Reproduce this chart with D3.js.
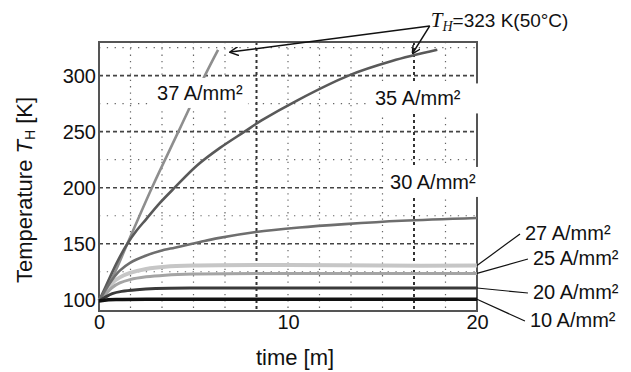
<!DOCTYPE html>
<meta charset="utf-8">
<head>
<script src="https://cdn.jsdelivr.net/npm/d3@7"></script>
<style>
  body { margin: 0; background: #fff; }
  text { font-family: "Liberation Sans", Arial, sans-serif; fill: #111; }
</style>
</head>
<body>
<div id="chart"></div>
<script>
// time [m] and temperature T_H [K], one pair per current density
var time37 = [0, 0.4, 0.8, 1.5, 2.8, 4.2, 5.6, 6.3];
var temp37 = [99, 110, 123, 150, 200, 250, 300, 323];

var time35 = [0, 0.25, 0.6, 1.0, 1.5, 2.0, 2.5, 3.2, 4.0, 5.2, 6.4, 7.7, 8.6, 10.5, 13.2, 15.5, 17.9];
var temp35 = [99, 108, 121, 135, 150, 162, 172, 186, 200, 220, 235.5, 250, 260, 278, 300, 313, 323];

var time30 = [0, 0.3, 0.7, 1.1, 1.64, 2.5, 3.23, 4.0, 4.81, 5.34, 6.3, 8.3, 10.6, 13, 16, 20];
var temp30 = [99, 108, 118, 126, 133, 139.5, 143.5, 146.5, 149.5, 151.5, 155, 160.5, 164.5, 167.5, 170.5, 173];

var time27 = [0, 0.3, 0.7, 1.1, 1.64, 2.5, 3.5, 5, 10, 15, 20];
var temp27 = [99, 106, 115, 120, 124, 127.5, 129.5, 130.5, 131, 130.5, 130.5];

var time25 = [0, 0.3, 0.7, 1.1, 1.64, 2.5, 3.5, 5, 10, 20];
var temp25 = [99, 104, 111, 115, 118, 120.5, 122, 123, 123.5, 123.5];

var time20 = [0, 0.3, 0.7, 1.2, 2, 3, 5, 10, 20];
var temp20 = [99, 102, 105.5, 107.5, 109, 110, 110.5, 110.5, 110.5];

var time10 = [0, 0.5, 1, 3, 20];
var temp10 = [99, 100, 100.3, 100.5, 100.5];

var yTicks = [100, 150, 200, 250, 300];
var xTicks = [0, 10, 20];
var yMajorGrid = [150, 200, 250, 300];
var yMinorGrid = [125, 175, 225, 275, 325];

// label text and where it sits, in data units [time, temperature of baseline]
var labelText = ["37 A/mm²", "35 A/mm²", "30 A/mm²", "27 A/mm²", "25 A/mm²", "20 A/mm²", "10 A/mm²"];
var labelTime = [3.07, 14.6, 15.4, 22.54, 22.96, 22.96, 22.8];
var labelTemp = [278.3, 273.4, 198.9, 153.4, 131, 100.7, 75.7];

var width = 631, height = 372;
var margin = {left: 99, right: 154, top: 42, bottom: 61};

var x = d3.scaleLinear().domain([0, 20]).range([margin.left, width - margin.right]);
var y = d3.scaleLinear().domain([90, 330]).range([height - margin.bottom, margin.top]);

var svg = d3.select("#chart").append("svg")
    .attr("width", width)
    .attr("height", height);

var defs = svg.append("defs");
defs.append("marker")
    .attr("id", "arr")
    .attr("viewBox", "0 0 10 10")
    .attr("refX", 9).attr("refY", 5)
    .attr("markerWidth", 9).attr("markerHeight", 9)
    .attr("markerUnits", "userSpaceOnUse")
    .attr("orient", "auto")
  .append("path")
    .attr("d", "M0,0 L10,5 L0,10")
    .attr("fill", "none")
    .attr("stroke", "#111")
    .attr("stroke-width", 1.6);

// grid: the scope screen has 12 divisions across, heavy every 5th
var grid = svg.append("g");
var divs = d3.range(1, 12);
grid.selectAll(".vminor")
    .data(divs.filter(function (k) { return k % 5 != 0; }))
    .enter().append("line")
    .attr("x1", function (k) { return x(k * 20 / 12); })
    .attr("x2", function (k) { return x(k * 20 / 12); })
    .attr("y1", y(330)).attr("y2", y(90))
    .attr("stroke", "#666").attr("stroke-width", 1.2)
    .attr("stroke-dasharray", "1.3,5");
grid.selectAll(".vmajor")
    .data(divs.filter(function (k) { return k % 5 == 0; }))
    .enter().append("line")
    .attr("x1", function (k) { return x(k * 20 / 12); })
    .attr("x2", function (k) { return x(k * 20 / 12); })
    .attr("y1", y(330)).attr("y2", y(90))
    .attr("stroke", "#333").attr("stroke-width", 2)
    .attr("stroke-dasharray", "3,3");
grid.selectAll(".hminor")
    .data(yMinorGrid)
    .enter().append("line")
    .attr("x1", x(0)).attr("x2", x(20))
    .attr("y1", function (d) { return y(d); })
    .attr("y2", function (d) { return y(d); })
    .attr("stroke", "#666").attr("stroke-width", 1.2)
    .attr("stroke-dasharray", "1.3,6.5");
grid.selectAll(".hmajor")
    .data(yMajorGrid)
    .enter().append("line")
    .attr("x1", x(0)).attr("x2", x(20))
    .attr("y1", function (d) { return y(d); })
    .attr("y2", function (d) { return y(d); })
    .attr("stroke", "#444").attr("stroke-width", 1.6)
    .attr("stroke-dasharray", "4,3");

// frame
svg.append("rect")
    .attr("x", x(0)).attr("y", y(330))
    .attr("width", x(20) - x(0)).attr("height", y(90) - y(330))
    .attr("fill", "none").attr("stroke", "#555").attr("stroke-width", 2);

// curves
var series = [
  {t: time27, v: temp27, color: "#c6c6c6", w: 4},
  {t: time25, v: temp25, color: "#a4a4a4", w: 3},
  {t: time37, v: temp37, color: "#8e8e8e", w: 2.6},
  {t: time35, v: temp35, color: "#595959", w: 2.6},
  {t: time30, v: temp30, color: "#6e6e6e", w: 2.6},
  {t: time20, v: temp20, color: "#3a3a3a", w: 3},
  {t: time10, v: temp10, color: "#111", w: 3.5}
];
var line = d3.line()
    .x(function (d) { return x(d[0]); })
    .y(function (d) { return y(d[1]); })
    .curve(d3.curveCatmullRom.alpha(0.5));
svg.append("g").selectAll("path")
    .data(series)
    .enter().append("path")
    .attr("d", function (s) { return line(d3.zip(s.t, s.v)); })
    .attr("fill", "none")
    .attr("stroke", function (s) { return s.color; })
    .attr("stroke-width", function (s) { return s.w; })
    .attr("stroke-linejoin", "round");

// curve labels (white box behind the ones inside the plot)
var labels = svg.append("g");
labelText.forEach(function (txt, i) {
  var g = labels.append("g");
  var tx = x(labelTime[i]), ty = y(labelTemp[i]);
  var t = g.append("text")
      .attr("x", tx).attr("y", ty)
      .attr("font-size", 20)
      .text(txt);
  if (labelTime[i] < 20) {
    var b = t.node().getBBox();
    var right = b.x + b.width + 5;
    if (i > 0) right = Math.max(right, x(20) + 3);
    g.insert("rect", "text")
        .attr("x", b.x - 6).attr("y", b.y - 4)
        .attr("width", right - b.x + 6).attr("height", b.height + 8)
        .attr("fill", "#fff");
  } else {
    // leader line from curve end to label
    var s = series[[0, 0, 0, 0, 1, 5, 6][i]];
    labels.append("line")
        .attr("x1", x(20)).attr("y1", y(s.v[s.v.length - 1]))
        .attr("x2", tx - 5).attr("y2", ty - 6)
        .attr("stroke", "#111").attr("stroke-width", 1.2);
  }
});

// axes
var yAxis = svg.append("g")
    .attr("transform", "translate(" + x(0) + ",0)")
    .call(d3.axisLeft(y).tickValues(yTicks).tickSize(0).tickPadding(3));
var xAxis = svg.append("g")
    .attr("transform", "translate(0," + y(90) + ")")
    .call(d3.axisBottom(x).tickValues(xTicks).tickSize(0).tickPadding(4));
[yAxis, xAxis].forEach(function (a) {
  a.select(".domain").remove();
  a.selectAll("text").attr("font-size", 20).attr("fill", "#111")
      .style("font-family", "'Liberation Sans', Arial, sans-serif");
});

svg.append("text")
    .attr("x", 295).attr("y", 365)
    .attr("text-anchor", "middle")
    .attr("font-size", 22)
    .text("time [m]");

var yt = svg.append("text")
    .attr("transform", "translate(32,190) rotate(-90)")
    .attr("text-anchor", "middle")
    .attr("font-size", 22);
yt.append("tspan").text("Temperature ");
yt.append("tspan").attr("font-style", "italic").text("T");
yt.append("tspan").attr("font-size", 14).attr("dy", 3).text("H");
yt.append("tspan").attr("dy", -3).text(" [K]");

// T_H = 323 K annotation with two arrows
var annT = 17.5, annV = 344.3;
var arrowTime = [6.95, 16.6];
var arrowTemp = [321, 320];
arrowTime.forEach(function (t, i) {
  svg.append("line")
      .attr("x1", x(annT)).attr("y1", y(annV))
      .attr("x2", x(t)).attr("y2", y(arrowTemp[i]))
      .attr("stroke", "#111").attr("stroke-width", 1.5)
      .attr("marker-end", "url(#arr)");
});
var ann = svg.append("text")
    .attr("x", x(annT) + 1).attr("y", y(annV) + 1)
    .attr("font-size", 19);
ann.append("tspan").attr("font-style", "italic")
    .style("font-family", "'Liberation Serif', serif").attr("font-size", 21).text("T");
ann.append("tspan").attr("font-style", "italic")
    .style("font-family", "'Liberation Serif', serif").attr("font-size", 14).attr("dy", 4).text("H");
ann.append("tspan").attr("dy", -4).text("=323 K(50°C)");
</script>
</body>
